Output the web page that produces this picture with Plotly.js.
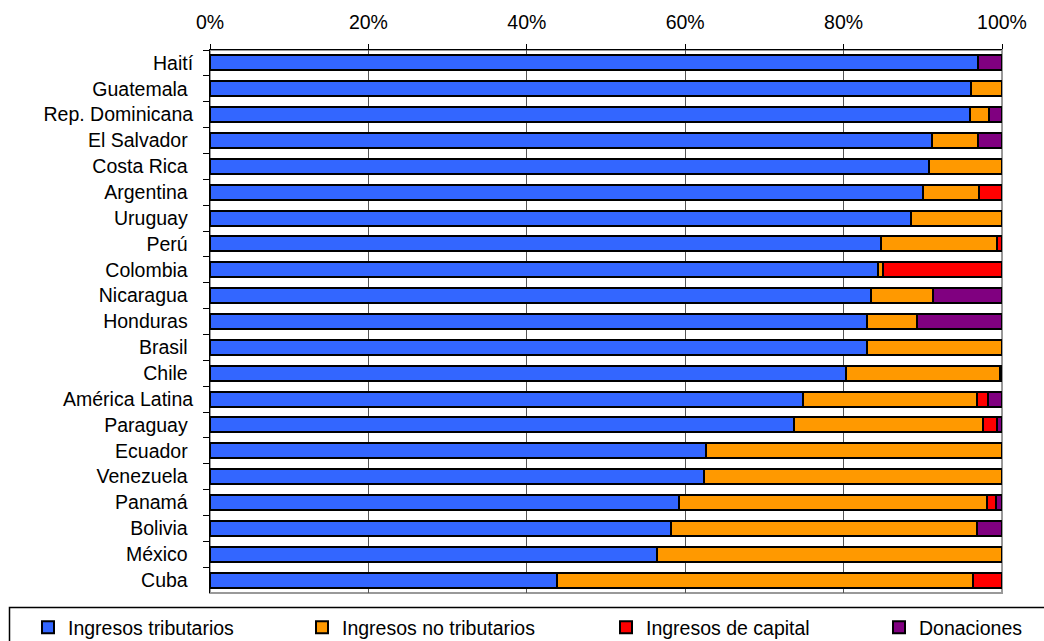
<!DOCTYPE html>
<html>
<head>
<meta charset="utf-8">
<script src="https://cdn.plot.ly/plotly-3.0.1.min.js"></script>
<style>html,body{margin:0;padding:0;background:#fff;}#chart{width:1044px;height:641px;}</style>
</head>
<body>
<div id="chart"></div>
<script>
var NB = '\u00a0';
var countries = ['Haití', 'Guatemala' + NB, 'Rep. Dominicana', 'El Salvador' + NB, 'Costa Rica' + NB,
  'Argentina' + NB, 'Uruguay' + NB, 'Perú' + NB, 'Colombia' + NB, 'Nicaragua' + NB, 'Honduras' + NB,
  'Brasil' + NB, 'Chile' + NB, 'América Latina', 'Paraguay' + NB, 'Ecuador' + NB, 'Venezuela' + NB,
  'Panamá' + NB, 'Bolivia' + NB, 'México' + NB, 'Cuba' + NB];

var tributarios    = [97.0, 96.1, 95.9, 91.2, 90.8, 90.0, 88.5, 84.7, 84.4, 83.5, 83.0, 82.9, 80.3, 74.9, 73.7, 62.6, 62.4, 59.2, 58.2, 56.5, 43.8];
var noTributarios  = [0.0, 3.9, 2.5, 5.8, 9.2, 7.1, 11.5, 14.7, 0.6, 7.8, 6.3, 17.1, 19.4, 21.9, 23.9, 37.4, 37.6, 38.9, 38.6, 43.5, 52.5];
var capital        = [0.0, 0.0, 0.0, 0.0, 0.0, 2.9, 0.0, 0.6, 15.0, 0.0, 0.0, 0.0, 0.3, 1.4, 1.8, 0.0, 0.0, 1.2, 0.0, 0.0, 3.7];
var donaciones     = [3.0, 0.0, 1.6, 3.0, 0.0, 0.0, 0.0, 0.0, 0.0, 8.7, 10.7, 0.0, 0.0, 1.8, 0.6, 0.0, 0.0, 0.7, 3.2, 0.0, 0.0];

var seriesNames  = ['Ingresos tributarios', 'Ingresos no tributarios', 'Ingresos de capital', 'Donaciones'];
var seriesColors = ['#3366FF', '#FF9900', '#FF0000', '#800080'];
var seriesData   = [tributarios, noTributarios, capital, donaciones];
var legendIds    = ['legend', 'legend2', 'legend3', 'legend4'];

var FONT = 'Liberation Sans, Arial, sans-serif';
var FS = 19.5;

var traces = seriesData.map(function (vals, i) {
  return {
    type: 'bar', orientation: 'h',
    y: countries, x: vals,
    name: seriesNames[i],
    legend: legendIds[i],
    marker: { color: seriesColors[i], line: { color: '#000', width: 2 } },
    hoverinfo: 'x+y+name'
  };
});

// plot area geometry (px) used for legend placement
var L = 210, R = 42, T = 50, B = 48;
var W = 1044 - L - R, H = 641 - T - B;
function px2x(p) { return (p - L) / W; }
function py2y(p) { return (641 - B - p) / H; }

var legendLefts = [28, 302, 606, 879];
var layout = {
  width: 1044, height: 641,
  margin: { l: L, r: R, t: T, b: B, pad: 0, autoexpand: false },
  paper_bgcolor: '#fff', plot_bgcolor: '#fff',
  font: { family: FONT, size: FS, color: '#000' },
  barmode: 'stack',
  bargap: 0.42,
  xaxis: {
    side: 'top', range: [0, 100], dtick: 20, ticksuffix: '%',
    showgrid: true, gridcolor: '#555', gridwidth: 1,
    showline: true, linecolor: '#000', linewidth: 1,
    ticks: 'outside', ticklen: 5, tickcolor: '#000',
    ticklabelstandoff: 7,
    zeroline: false, fixedrange: true,
    tickfont: { family: FONT, size: FS, color: '#000' }
  },
  yaxis: {
    type: 'category', autorange: 'reversed',
    showline: true, linecolor: '#000', linewidth: 1,
    ticks: 'outside', ticklen: 6, tickcolor: '#000', tickson: 'boundaries',
    ticklabelstandoff: 12,
    showgrid: false, fixedrange: true,
    tickfont: { family: FONT, size: FS, color: '#000' }
  },
  shapes: [
    { type: 'rect', xref: 'paper', yref: 'paper', x0: 0, x1: 1, y0: 0, y1: 1,
      line: { color: '#999', width: 2 }, fillcolor: 'rgba(0,0,0,0)', layer: 'below' },
    { type: 'rect', xref: 'paper', yref: 'paper', x0: px2x(9.5), x1: px2x(1060), y0: py2y(607.5), y1: py2y(660),
      line: { color: '#000', width: 1.5 }, fillcolor: 'rgba(0,0,0,0)' }
  ],
  showlegend: true
};

legendIds.forEach(function (id, i) {
  layout[id] = {
    x: px2x(legendLefts[i]), xanchor: 'left',
    y: py2y(627.5), yanchor: 'middle',
    orientation: 'h', bgcolor: 'rgba(0,0,0,0)', borderwidth: 0,
    font: { family: FONT, size: FS, color: '#000' },
    itemwidth: 30, tracegroupgap: 0
  };
});

Plotly.newPlot('chart', traces, layout, { displayModeBar: false, staticPlot: true });
</script>
</body>
</html>
